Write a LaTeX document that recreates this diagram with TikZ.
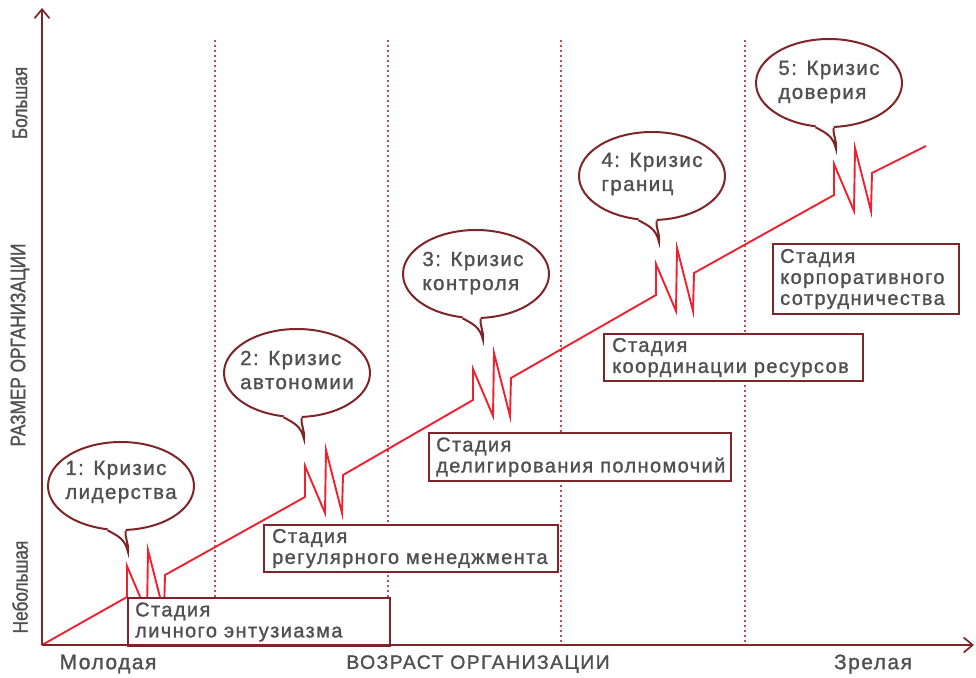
\documentclass[tikz,border=0pt]{standalone}
\usepackage{fontspec}
\setmainfont{Liberation Sans}[LetterSpace=7,FakeBold=1.2]
\newfontfamily\condf{Liberation Sans}[FakeStretch=0.82,FakeBold=1.2]
\usetikzlibrary{arrows.meta,shapes.geometric,calc}
\definecolor{maroonc}{HTML}{7E2529}
\definecolor{redc}{HTML}{F0202E}
\definecolor{dotc}{HTML}{C24A55}
\definecolor{txt}{HTML}{505050}
\tikzset{
  axisline/.style={draw=maroonc, line width=2pt, -{Straight Barb[length=9pt,width=15pt,line width=1.7pt]}},
  sepline/.style={draw=dotc, line width=1.8pt, dash pattern=on 2pt off 3pt},
  redline/.style={draw=redc, line width=1.9pt, line join=miter},
  stagebox/.style={rectangle, draw=maroonc, line width=2pt, fill=white, anchor=north west, inner sep=0pt},
  stagetext/.style={anchor=west, align=left, text=txt, inner sep=0pt, font=\fontsize{20}{21}\selectfont},
  bubble/.style={ellipse, draw=maroonc, line width=2pt, fill=white, minimum width=146pt, minimum height=88pt, inner sep=0pt},
  bubbletext/.style={align=left, text=txt, inner sep=0pt, font=\fontsize{20.5}{24}\selectfont},
  tailline/.style={draw=maroonc, line width=2pt},
  ylab/.style={rotate=90, text=txt, font=\condf\fontsize{21}{21}\selectfont},
  xlab/.style={text=txt, font=\fontsize{21}{21}\selectfont},
}
\newcommand{\mytail}[1]{%
  \coordinate (#1tip) at ($(#1.center)+(7,66)$);
  \fill[white] ($(#1.-107)+(1,-6)$) -- (#1.-107) .. controls +(11,6) and +(-3,-13) .. (#1tip) .. controls +(1,-9) and +(-1,8) .. (#1.-84) -- ($(#1.-84)+(0,-6)$) -- cycle;
  \draw[tailline] (#1.-107) .. controls +(11,6) and +(-3,-13) .. (#1tip) .. controls +(1,-9) and +(-1,8) .. (#1.-84);
}
\begin{document}
\begin{tikzpicture}[x=1pt,y=-1pt]
\useasboundingbox (0,0) rectangle (976,677);
% separators
\foreach \xx/\nm in {215/d1,388/d2,561/d3,745/d4}{
  \coordinate (\nm top) at (\xx,40);
  \coordinate (\nm bot) at (\xx,645);
  \draw[sepline] (\nm top) -- (\nm bot);
}
% growth line with crises
\coordinate (o) at (42,645);
\coordinate (z1) at (127,597);
\coordinate (z2) at (305,497);
\coordinate (z3) at (473,400);
\coordinate (z4) at (656,295);
\coordinate (z5) at (834,195);
\coordinate (zend) at (926,146);
\draw[redline] (o) -- (z1) -- ++(0,-31) -- ++(20,47) -- ++(1,-63) -- ++(16,63) -- ++(1,-38)
  -- (z2) -- ++(0,-31) -- ++(20,47) -- ++(1,-63) -- ++(16,63) -- ++(1,-38)
  -- (z3) -- ++(0,-31) -- ++(20,47) -- ++(1,-63) -- ++(16,63) -- ++(1,-38)
  -- (z4) -- ++(0,-31) -- ++(20,47) -- ++(1,-63) -- ++(16,63) -- ++(1,-38)
  -- (z5) -- ++(0,-31) -- ++(20,47) -- ++(1,-63) -- ++(16,63) -- ++(1,-38)
  -- (zend);
% stage boxes
\node[stagebox, minimum width=262pt, minimum height=48pt] (s1) at (127,597) {};
\node[stagetext] (s1t) at ($(s1.west)+(8,0)$) {Стадия\\личного энтузиазма};
\node[stagebox, minimum width=294pt, minimum height=47pt] (s2) at (263,524) {};
\node[stagetext] (s2t) at ($(s2.west)+(9,0)$) {Стадия\\регулярного менеджмента};
\node[stagebox, minimum width=302pt, minimum height=48pt] (s3) at (428,432) {};
\node[stagetext] (s3t) at ($(s3.west)+(8,0)$) {Стадия\\делигирования полномочий};
\node[stagebox, minimum width=259pt, minimum height=47pt] (s4) at (603,333) {};
\node[stagetext] (s4t) at ($(s4.west)+(9,0)$) {Стадия\\координации ресурсов};
\node[stagebox, minimum width=186pt, minimum height=70pt] (s5) at (772,243) {};
\node[stagetext] (s5t) at ($(s5.west)+(8,0)$) {Стадия\\корпоративного\\сотрудничества};
% bubbles
\node[bubble] (b1) at (121,486) {};
\mytail{b1}
\node[bubbletext] (b1t) at ($(b1.center)+(0,-4)$) {1: Кризис\\лидерства};
\node[bubble] (b2) at (297,373) {};
\mytail{b2}
\node[bubbletext] (b2t) at ($(b2.center)+(0,-3)$) {2: Кризис\\автономии};
\node[bubble] (b3) at (476,274) {};
\mytail{b3}
\node[bubbletext] (b3t) at ($(b3.center)+(-3,-1)$) {3: Кризис\\контроля};
\node[bubble] (b4) at (652,176) {};
\mytail{b4}
\node[bubbletext] (b4t) at ($(b4.center)+(0,-2)$) {4: Кризис\\границ};
\node[bubble] (b5) at (829,83) {};
\mytail{b5}
\node[bubbletext] (b5t) at ($(b5.center)+(0,-1)$) {5: Кризис\\доверия};
% axes
\coordinate (ytop) at (42,8);
\coordinate (xend) at (974,645);
\draw[axisline] (o) -- (ytop);
\draw[axisline] (o) -- (xend);
% axis labels
\node[ylab] (yl1) at (20,103) {Большая};
\node[ylab] (yl2) at (20,345) {РАЗМЕР ОРГАНИЗАЦИИ};
\node[ylab] (yl3) at (20,587) {Небольшая};
\node[xlab] (xl1) at (108,664) {Молодая};
\node[xlab, font=\fontsize{19.5}{20}\selectfont] (xl2) at (478,664) {ВОЗРАСТ ОРГАНИЗАЦИИ};
\node[xlab] (xl3) at (873,664) {Зрелая};
\end{tikzpicture}
\end{document}
